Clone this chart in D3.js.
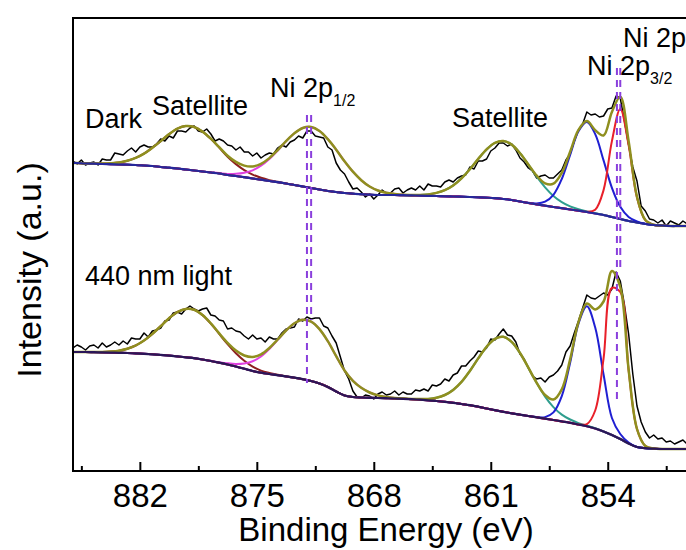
<!DOCTYPE html>
<html><head><meta charset="utf-8">
<script src="https://cdn.jsdelivr.net/npm/d3@7"></script>
<style>html,body{margin:0;padding:0;background:#fff;} svg{display:block;font-family:Arial,"Liberation Sans",sans-serif;}</style>
</head><body><svg id="c" width="686" height="550"></svg>
<script>
// ---------- axis ticks ----------
const majorTicks = [882, 875, 868, 861, 854];
const minorTicks = [885.5, 878.5, 871.5, 864.5, 857.5, 850.5];

// ---------- fit grid: 886.25 eV down in 0.5 eV steps (78 points) ----------
const fitE = d3.range(78).map(i => 886.25 - 0.5 * i);
// ---------- raw data grid: 886 eV down in 0.25 eV steps (153 points) ----------
const dataE = d3.range(153).map(j => 886 - 0.25 * j);

// ===== Dark spectrum (upper) =====
const bgDark = [
308,308,307.5,307.3,307,306.8,306.5,306.3,306,305.5,
305,304,303.3,302.5,301.5,300.5,299.5,298.5,297.5,296,
295,293.8,292.5,291.3,290,288.8,287.5,286,284.5,283,
281.5,280,279,278,277.3,276.8,276.3,276,276,276,
275.8,275.6,275.4,275.2,275,274.7,274.5,274.3,274,273.7,
273.3,272.8,272,271,269.5,268,266.5,265.3,264,262.8,
261.5,260.3,259,257.5,256,254,252,250,248.5,247,
246,245.5,245,245,245,245,245,245];
const sat1Dark = [
0,0,0,0.1,0.4,0.9,1.9,3.9,7.1,11.9,
18.3,25.9,33.6,39.9,43.5,43.5,39.9,33.6,25.9,18.3,
11.9,7.1,3.9,1.9,0.9,0.4,0.1,0,0,0,
0,0,0,0,0,0,0,0,0,0,
0,0,0,0,0,0,0,0,0,0,
0,0,0,0,0,0,0,0,0,0,
0,0,0,0,0,0,0,0,0,0,
0,0,0,0,0,0,0,0];
const p12Dark = [
0,0,0,0,0,0,0,0,0,0,
0,0,0,0,0,0,0,0.2,0.4,1.0,
2.2,4.5,8.2,14.0,22.0,31.7,42.3,51.8,58.5,61,
58.5,51.8,42.3,31.7,22.0,14.0,8.2,4.5,2.2,1.0,
0.4,0.2,0,0,0,0,0,0,0,0,
0,0,0,0,0,0,0,0,0,0,
0,0,0,0,0,0,0,0,0,0,
0,0,0,0,0,0,0,0];
const sat2Dark = [
0,0,0,0,0,0,0,0,0,0,
0,0,0,0,0,0,0,0,0,0,
0,0,0,0,0,0,0,0,0,0,
0,0,0,0,0,0,0,0,0,0,
0,0.2,0.6,1.4,3.1,6.1,11.1,18.4,27.8,38.4,
48.3,55.4,58,55.4,48.3,38.4,27.8,18.4,11.1,6.1,
3.1,1.4,0.6,0.2,0,0,0,0,0,0,
0,0,0,0,0,0,0,0];
const blueDark = [
0,0,0,0,0,0,0,0,0,0,
0,0,0,0,0,0,0,0,0,0,
0,0,0,0,0,0,0,0,0,0,
0,0,0,0,0,0,0,0,0,0,
0,0,0,0,0,0,0,0,0,0,
0,0,0,0,0,0.2,1.0,4.0,12.2,29.2,
54.6,79.4,90,79.4,54.6,29.2,12.2,4.0,1.0,0.2,
0,0,0,0,0,0,0,0];
const redDark = [
0,0,0,0,0,0,0,0,0,0,
0,0,0,0,0,0,0,0,0,0,
0,0,0,0,0,0,0,0,0,0,
0,0,0,0,0,0,0,0,0,0,
0,0,0,0,0,0,0,0,0,0,
0,0,0,0,0,0,0,0,0,0,
0,0,0.3,3.8,24.9,75.9,110,75.9,24.9,3.8,
0.3,0,0,0,0,0,0,0];
const dataDark = [
310,307,311,306,308,309,306,312,311,311,
318,317,316,320,323,319,324,326,324,324,
327,332,330,335,333,340,340,339,343,345,
340,339,342,337,330,332,330,326,325,321,
324,319,319,315,318,313,316,318,317,323,
326,324,329,331,335,333,340,340,335,334,
333,324,321,308,301,297,289,282,283,279,
274,277,272,276,281,278,278,282,283,278,
281,283,281,285,281,287,285,285,284,289,
291,289,293,295,296,304,302,310,310,312,
320,323,328,328,325,327,321,313,309,303,
300,293,295,296,293,293,297,301,311,317,
330,341,347,359,356,357,354,355,362,363,
375,373,350,326,304,290,265,260,252,251,
248,251,245,250,248,246,250,247,249,245,
250,248,249];

// ===== 440 nm light spectrum (lower) =====
const bgLight = [
119,119,119,118.8,118.6,118.4,118.2,118,117.6,117.2,
116.7,116.1,115.4,114.6,113.7,112.8,111.5,110,108.3,106.5,
104.5,102.3,100,98.3,97,95.8,94.6,93.3,91.8,90,
87.5,84,79.5,75.5,74,73.5,73.2,73,72.8,72.5,
72.2,71.8,71.3,70.7,70,69.2,68.2,67,65.8,64.3,
62.5,60.8,59.2,57.7,56.3,55,53.7,52.3,51,49.6,
48.2,46.5,44.7,42.5,39.5,36,32,27.5,24,22.8,
22.3,22,22,22,22,22,22,22];
const sat1Light = [
0,0,0,0.1,0.4,1.0,2.1,4.3,7.9,13.3,
20.4,28.8,37.4,44.4,48.4,48.4,44.4,37.4,28.8,20.4,
13.3,7.9,4.3,2.1,1.0,0.4,0.1,0,0,0,
0,0,0,0,0,0,0,0,0,0,
0,0,0,0,0,0,0,0,0,0,
0,0,0,0,0,0,0,0,0,0,
0,0,0,0,0,0,0,0,0,0,
0,0,0,0,0,0,0,0];
const p12Light = [
0,0,0,0,0,0,0,0,0,0,
0,0,0,0,0,0,0,0.2,0.5,1.2,
2.6,5.3,9.7,16.2,25.0,35.3,45.8,54.4,59.4,59.4,
54.4,45.8,35.3,25.0,16.2,9.7,5.3,2.6,1.2,0.5,
0.2,0,0,0,0,0,0,0,0,0,
0,0,0,0,0,0,0,0,0,0,
0,0,0,0,0,0,0,0,0,0,
0,0,0,0,0,0,0,0];
const sat2Light = [
0,0,0,0,0,0,0,0,0,0,
0,0,0,0,0,0,0,0,0,0,
0,0,0,0,0,0,0,0,0,0,
0,0,0,0,0,0,0,0,0,0,
0,0.2,0.6,1.4,3.3,6.8,12.9,22.1,34.3,48.3,
61.7,71.4,75,71.4,61.7,48.3,34.3,22.1,12.9,6.8,
3.3,1.4,0.6,0.2,0,0,0,0,0,0,
0,0,0,0,0,0,0,0];
const blueLight = [
0,0,0,0,0,0,0,0,0,0,
0,0,0,0,0,0,0,0,0,0,
0,0,0,0,0,0,0,0,0,0,
0,0,0,0,0,0,0,0,0,0,
0,0,0,0,0,0,0,0,0,0,
0,0,0,0,0,0,0.2,1.6,7.6,25.3,
60.1,100.9,120,100.9,57,17,5,1,0,0,
0,0,0,0,0,0,0,0];
const redLight = [
0,0,0,0,0,0,0,0,0,0,
0,0,0,0,0,0,0,0,0,0,
0,0,0,0,0,0,0,0,0,0,
0,0,0,0,0,0,0,0,0,0,
0,0,0,0,0,0,0,0,0,0,
0,0,0,0,0,0,0,0,0,0,
0,0.1,2.2,18,73,147,147,73,18,2.2,
0.1,0,0,0,0,0,0,0];
const dataLight = [
123,126,124,121,125,126,123,128,124,126,
129,126,130,127,133,132,132,138,134,140,
141,143,150,151,158,159,157,162,165,162,
160,162,163,156,155,151,150,142,143,140,
139,135,132,136,132,133,129,134,132,132,
138,142,143,144,152,150,154,152,153,153,
145,143,135,128,114,100,92,80,74,73,
76,75,72,77,79,76,77,80,76,79,
77,77,81,80,82,80,86,85,87,92,
90,96,98,105,105,110,114,120,119,123,
132,131,137,142,136,135,129,117,112,103,
95,92,93,89,94,96,100,106,119,125,
138,150,163,176,173,172,175,178,176,182,
199,190,166,137,97,65,49,39,33,36,
32,33,29,30,27,29,31,27,30,26,
29,28,31];

// ===== peak-position guide lines (energy, intensity from, intensity to) =====
const guideE    = [872.0, 871.75, 853.45, 853.25];
const guideTop  = [356, 356, 403, 403];
const guideBot  = [88, 151, 71, 199];

// ===== labels =====
const labelText = ["Dark", "Satellite", "Ni 2p", "Satellite", "Ni 2p", "Ni 2p", "440 nm light"];
const labelSub  = ["", "", "1/2", "", "3/2", "", ""];
const labelE    = [885.28, 881.27, 874.21, 863.32, 855.24, 853.09, 885.28];
const labelV    = [343, 356, 374, 344, 396, 424, 186];

// ---------- drawing ----------
const svg = d3.select("#c");
const L = 73, T = 18, B = 471, R = 708;
const x = d3.scaleLinear().domain([886, 848]).range([L, R]);
const y = d3.scaleLinear().domain([0, 453]).range([B, T]);

svg.append("defs").append("clipPath").attr("id", "clip")
  .append("rect").attr("x", L).attr("y", T).attr("width", R - L).attr("height", B - T);
const plot = svg.append("g").attr("clip-path", "url(#clip)");

const fitLine = d3.line().x(d => x(d[0])).y(d => y(d[1])).curve(d3.curveCatmullRom.alpha(0.5));
const rawLine = d3.line().x(d => x(d[0])).y(d => y(d[1]));

function spectrum(bg, comps, data, bgColor) {
  plot.append("path").datum(dataE.map((e, j) => [e, data[j]]))
    .attr("d", rawLine).attr("fill", "none").attr("stroke", "#000").attr("stroke-width", 1.5)
    .attr("stroke-linejoin", "round");
  comps.forEach(c => {
    plot.append("path").datum(fitE.map((e, i) => [e, bg[i] + c.v[i]]))
      .attr("d", fitLine).attr("fill", "none").attr("stroke", c.color).attr("stroke-width", 2);
  });
  const env = fitE.map((e, i) => [e, bg[i] + comps.reduce((s, c) => s + c.v[i], 0)]);
  plot.append("path").datum(env).attr("d", fitLine).attr("fill", "none")
    .attr("stroke", "#8f8f1f").attr("stroke-width", 2.5);
  plot.append("path").datum(fitE.map((e, i) => [e, bg[i]]))
    .attr("d", fitLine).attr("fill", "none").attr("stroke", bgColor).attr("stroke-width", 2.2);
}

spectrum(bgDark, [
  {v: sat1Dark, color: "#8e1f1f"}, {v: p12Dark, color: "#e040e0"}, {v: sat2Dark, color: "#2f9e8e"},
  {v: blueDark, color: "#1f1fd2"}, {v: redDark, color: "#e8202a"}], dataDark, "#26289a");
spectrum(bgLight, [
  {v: sat1Light, color: "#8e1f1f"}, {v: p12Light, color: "#e040e0"}, {v: sat2Light, color: "#2f9e8e"},
  {v: blueLight, color: "#1f1fd2"}, {v: redLight, color: "#e8202a"}], dataLight, "#2a1658");

// guide lines
guideE.forEach((e, k) => {
  svg.append("line").attr("x1", x(e)).attr("x2", x(e)).attr("y1", y(guideTop[k])).attr("y2", y(guideBot[k]))
    .attr("stroke", "#8a3fdc").attr("stroke-width", 2).attr("stroke-dasharray", "7,5");
});

// frame
svg.append("rect").attr("x", L).attr("y", T).attr("width", R - L + 10).attr("height", B - T)
  .attr("fill", "none").attr("stroke", "#000").attr("stroke-width", 2);

// x axis ticks
const ax = svg.append("g").attr("transform", `translate(0,${B})`)
  .call(d3.axisBottom(x).tickValues(majorTicks).tickSizeInner(-9).tickSizeOuter(0).tickPadding(12.5)
    .tickFormat(d3.format("d")));
ax.select(".domain").remove();
ax.selectAll("line").attr("stroke", "#000").attr("stroke-width", 2);
ax.selectAll("text").attr("font-size", 33).attr("fill", "#000").attr("font-family", "Arial, 'Liberation Sans', sans-serif");
const axm = svg.append("g").attr("transform", `translate(0,${B})`)
  .call(d3.axisBottom(x).tickValues(minorTicks).tickSizeInner(-5).tickSizeOuter(0).tickFormat(""));
axm.select(".domain").remove();
axm.selectAll("line").attr("stroke", "#000").attr("stroke-width", 2);

// axis titles
svg.append("text").attr("x", 386).attr("y", 541).attr("text-anchor", "middle")
  .attr("font-size", 33).text("Binding Energy (eV)");
svg.append("text").attr("transform", "translate(41,270) rotate(-90)").attr("text-anchor", "middle")
  .attr("font-size", 34).text("Intensity (a.u.)");

// labels
labelText.forEach((t, k) => {
  const tx = svg.append("text").attr("x", x(labelE[k])).attr("y", y(labelV[k])).attr("font-size", 27).text(t);
  if (labelSub[k]) tx.append("tspan").attr("font-size", 16).attr("dy", 9).text(labelSub[k]);
});
</script>
</body></html>
